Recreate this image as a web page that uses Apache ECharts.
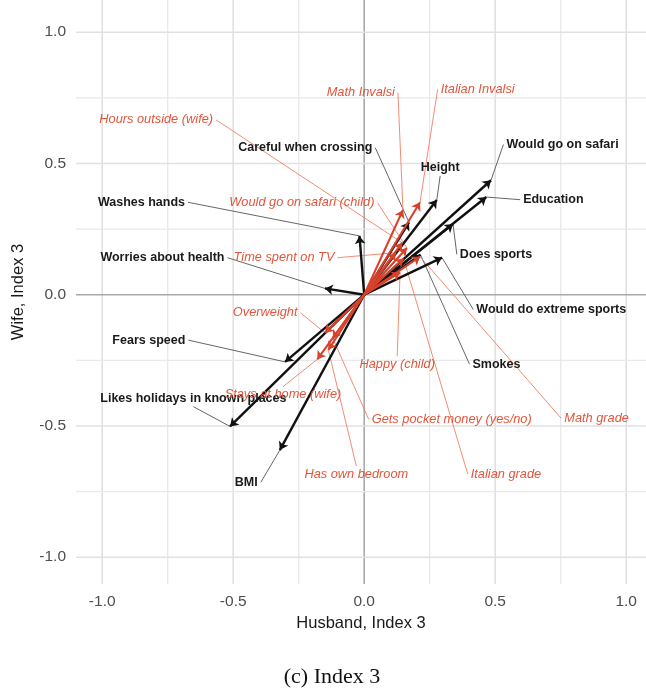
<!DOCTYPE html>
<html>
<head>
<meta charset="utf-8">
<script src="https://cdn.jsdelivr.net/npm/echarts@6/dist/echarts.min.js"></script>
<style>
  html, body { margin: 0; padding: 0; background: #fff; }
  #chart { width: 646px; height: 690px; }
</style>
</head>
<body>
<div id="chart"></div>
<script>
// Parent variables (husband / wife loadings on index 3)
const parentNames = [
  'Would go on safari', 'Education', 'Does sports', 'Height',
  'Careful when crossing', 'Would do extreme sports', 'Smokes',
  'Washes hands', 'Worries about health', 'Fears speed',
  'Likes holidays in known places', 'BMI'
];
const parentX = [0.484, 0.466, 0.339, 0.277, 0.171, 0.297, 0.215, -0.018, -0.150, -0.302, -0.512, -0.322];
const parentY = [0.436, 0.372, 0.269, 0.361, 0.276, 0.141, 0.152, 0.224, 0.024, -0.256, -0.502, -0.592];

// Child variables
const childNames = [
  'Math Invalsi', 'Italian Invalsi', 'Hours outside (wife)',
  'Would go on safari (child)', 'Time spent on TV', 'Happy (child)',
  'Italian grade', 'Math grade', 'Overweight', 'Stays at home (wife)',
  'Has own bedroom', 'Gets pocket money (yes/no)'
];
const childX = [0.148, 0.213, 0.145, 0.163, 0.120, 0.137, 0.150, 0.213, -0.150, -0.179, -0.137, -0.120];
const childY = [0.323, 0.352, 0.198, 0.178, 0.160, 0.085, 0.138, 0.145, -0.145, -0.246, -0.210, -0.166];

// Where the repelled text labels sit (axis units)
const parentLabelX = [0.757, 0.722, 0.503, 0.290, -0.225, 0.714, 0.505, -0.850, -0.770, -0.822, -0.652, -0.450];
const parentLabelY = [0.572, 0.362, 0.153, 0.483, 0.560, -0.057, -0.265, 0.352, 0.141, -0.173, -0.396, -0.715];
const childLabelX = [-0.013, 0.433, -0.794, -0.238, -0.306, 0.126, 0.541, 0.887, -0.378, -0.310, -0.030, 0.334];
const childLabelY = [0.770, 0.782, 0.666, 0.351, 0.141, -0.265, -0.683, -0.471, -0.069, -0.381, -0.683, -0.475];

// Axis ticks and grid
const tickValues = [-1.0, -0.5, 0.0, 0.5, 1.0];
const gridValues = [-1.0, -0.75, -0.5, -0.25, 0.0, 0.25, 0.5, 0.75, 1.0];

const BLACK = '#111111';
const RED = '#d8412a';
const RED_TEXT = '#e2553b';
const parentFont = 'bold 12.5px "Liberation Sans", Arial, sans-serif';
const childFont = 'italic 12.8px "Liberation Sans", Arial, sans-serif';

const measureCtx = document.createElement('canvas').getContext('2d');
function textWidth(text, font) {
  measureCtx.font = font;
  return measureCtx.measureText(text).width;
}

function arrowData(xs, ys) {
  return xs.map((x, i) => ({ coords: [[0, 0], [x, ys[i]]] }));
}
function labelData(lx, ly, tx, ty) {
  return lx.map((x, i) => [x, ly[i], tx[i], ty[i]]);
}

// Draws either the leader segment or the text of each label
function labelRenderer(names, font, color, mode) {
  return function (params, api) {
    const i = params.dataIndex;
    const c = api.coord([api.value(0), api.value(1)]);
    const t = api.coord([api.value(2), api.value(3)]);
    if (mode === 'text') {
      return {
        type: 'text', x: c[0], y: c[1],
        style: { text: names[i], fill: color, font: font, align: 'center', verticalAlign: 'middle' }
      };
    }
    const hw = textWidth(names[i], font) / 2 + 3;
    const hh = 8;
    let s;
    if (t[0] >= c[0] - hw && t[0] <= c[0] + hw) {
      s = [c[0], t[1] < c[1] ? c[1] - hh : c[1] + hh];
    } else {
      s = [t[0] < c[0] ? c[0] - hw : c[0] + hw, c[1]];
    }
    return {
      type: 'line',
      shape: { x1: s[0], y1: s[1], x2: t[0], y2: t[1] },
      style: { stroke: color, lineWidth: 0.9 }
    };
  };
}

function gridRenderer(vertical) {
  return function (params, api) {
    const v = api.value(vertical ? 0 : 1);
    const p = api.coord([vertical ? v : 0, vertical ? 0 : v]);
    const cs = params.coordSys;
    const zero = Math.abs(v) < 1e-9;
    const major = Math.abs(v * 2 - Math.round(v * 2)) < 1e-9;
    const shape = vertical
      ? { x1: p[0], y1: cs.y, x2: p[0], y2: cs.y + cs.height }
      : { x1: cs.x, y1: p[1], x2: cs.x + cs.width, y2: p[1] };
    return {
      type: 'line', shape: shape,
      style: {
        stroke: zero ? '#a9a9a9' : (major ? '#e1e1e1' : '#e9e9e9'),
        lineWidth: zero ? 1.6 : (major ? 1.6 : 1.3)
      }
    };
  };
}

const chart = echarts.init(document.getElementById('chart'), null, { renderer: 'canvas' });

chart.setOption({
  backgroundColor: '#ffffff',
  animation: false,
  grid: { left: 76, right: 0, top: 0, bottom: 106, containLabel: false },
  xAxis: {
    type: 'value', min: -1.1, max: 1.0756,
    splitLine: { show: false }, axisLine: { show: false }, axisTick: { show: false },
    axisLabel: {
      customValues: tickValues, formatter: v => v.toFixed(1),
      color: '#4d4d4d', fontSize: 15.5, margin: 10, fontFamily: '"Liberation Sans", Arial, sans-serif'
    },
    name: 'Husband, Index 3', nameLocation: 'middle', nameGap: 31,
    nameTextStyle: { color: '#1a1a1a', fontSize: 16.5, fontFamily: '"Liberation Sans", Arial, sans-serif' }
  },
  yAxis: {
    type: 'value', min: -1.1021, max: 1.1227,
    splitLine: { show: false }, axisLine: { show: false }, axisTick: { show: false },
    axisLabel: {
      customValues: tickValues, formatter: v => v.toFixed(1),
      color: '#4d4d4d', fontSize: 15.5, margin: 10, fontFamily: '"Liberation Sans", Arial, sans-serif'
    },
    name: 'Wife, Index 3', nameLocation: 'middle', nameGap: 49, nameRotate: 90,
    nameTextStyle: { color: '#1a1a1a', fontSize: 16.5, fontFamily: '"Liberation Sans", Arial, sans-serif' }
  },
  graphic: [{
    type: 'text', x: 332, y: 677,
    style: {
      text: '(c) Index 3', fill: '#111', align: 'center', verticalAlign: 'middle',
      font: '22px "Liberation Serif", "DejaVu Serif", serif'
    }
  }],
  series: [
    { type: 'custom', renderItem: gridRenderer(true), data: gridValues.map(v => [v, 0]), silent: true, clip: false, z: 0 },
    { type: 'custom', renderItem: gridRenderer(false), data: gridValues.map(v => [0, v]), silent: true, clip: false, z: 0 },
    { type: 'custom', renderItem: labelRenderer(parentNames, parentFont, '#555555', 'leader'),
      data: labelData(parentLabelX, parentLabelY, parentX, parentY), silent: true, clip: false, z: 1 },
    { type: 'custom', renderItem: labelRenderer(childNames, childFont, '#ef7f63', 'leader'),
      data: labelData(childLabelX, childLabelY, childX, childY), silent: true, clip: false, z: 1 },
    { type: 'lines', coordinateSystem: 'cartesian2d', silent: true, z: 2,
      symbol: ['none', 'arrow'], symbolSize: 8,
      lineStyle: { color: BLACK, width: 2.4, opacity: 1 },
      data: arrowData(parentX, parentY) },
    { type: 'lines', coordinateSystem: 'cartesian2d', silent: true, z: 3,
      symbol: ['none', 'arrow'], symbolSize: 8,
      lineStyle: { color: RED, width: 2.1, opacity: 1 },
      data: arrowData(childX, childY) },
    { type: 'custom', renderItem: labelRenderer(parentNames, parentFont, '#1a1a1a', 'text'),
      data: labelData(parentLabelX, parentLabelY, parentX, parentY), silent: true, clip: false, z: 4 },
    { type: 'custom', renderItem: labelRenderer(childNames, childFont, RED_TEXT, 'text'),
      data: labelData(childLabelX, childLabelY, childX, childY), silent: true, clip: false, z: 5 }
  ]
});
</script>
</body>
</html>
